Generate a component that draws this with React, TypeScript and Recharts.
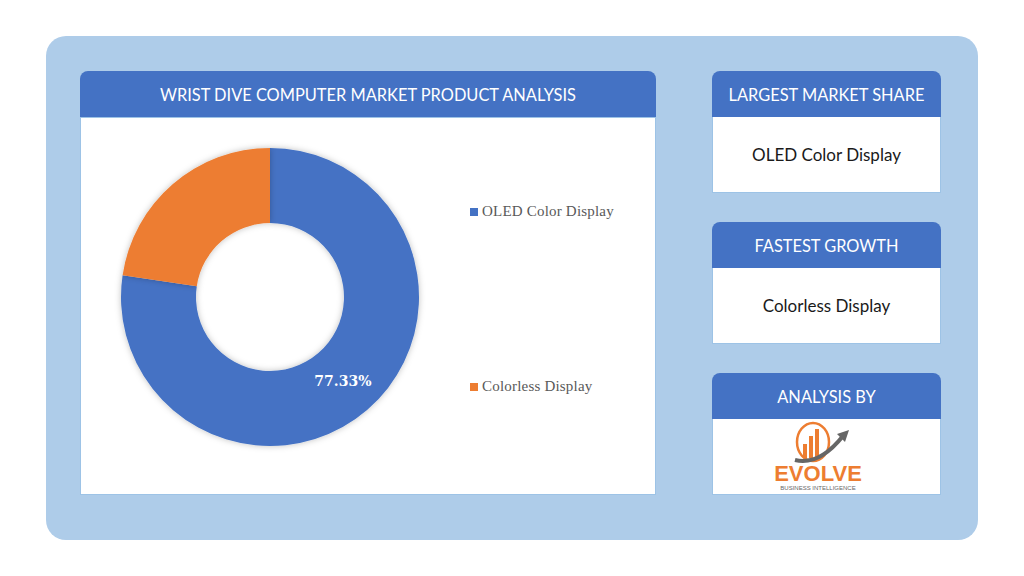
import { Pie, PieChart, Cell, Legend } from "recharts";

const segments = ["OLED Color Display", "Colorless Display"];
const shares = [77.33, 22.67];
const colors = ["#4472c4", "#ed7d31"];
const labelled = [true, false];

const cards = [
  { title: "LARGEST MARKET SHARE", body: "OLED Color Display" },
  { title: "FASTEST GROWTH", body: "Colorless Display" },
  { title: "ANALYSIS BY", body: "" }
];

const data = segments.map((name, i) => ({ name, value: shares[i] }));

const RADIAN = Math.PI / 180;

function SliceLabel(props: any) {
  const { cx, cy, midAngle, innerRadius, outerRadius, index, value } = props;
  if (!labelled[index]) return null;
  const r = (innerRadius + outerRadius) / 2;
  const x = cx + r * Math.cos(-midAngle * RADIAN);
  const y = cy + r * Math.sin(-midAngle * RADIAN);
  return (
    <text
      x={x}
      y={y}
      fill="#ffffff"
      textAnchor="middle"
      dominantBaseline="central"
      fontFamily="'DejaVu Serif', serif"
      fontWeight="bold"
      fontSize={14}
    >
      {value.toFixed(2)}%
    </text>
  );
}

function SideLegend() {
  const tops = [95, 270];
  return (
    <div>
      {data.map((d, i) => (
        <div
          key={d.name}
          style={{
            position: "absolute",
            left: 389,
            top: tops[i] - 10,
            display: "flex",
            alignItems: "center",
            fontFamily: "'Liberation Serif', serif",
            fontSize: 15,
            letterSpacing: 0.2,
            color: "#595959",
            whiteSpace: "nowrap"
          }}
        >
          <span style={{ width: 8, height: 8, background: colors[i], marginRight: 4, display: "inline-block" }} />
          {d.name}
        </div>
      ))}
    </div>
  );
}

function Logo() {
  return (
    <svg width={120} height={74} viewBox="0 0 120 74">
      <ellipse cx={46} cy={22} rx={16} ry={19} fill="none" stroke="#ed7d31" strokeWidth={2.5} />
      <rect x={36} y={24} width={4} height={14} fill="#ed7d31" />
      <rect x={42} y={16} width={4} height={22} fill="#ed7d31" />
      <rect x={48} y={9} width={4} height={29} fill="#ed7d31" />
      <path d="M28 40 Q52 46 76 16" stroke="#666" strokeWidth={4} fill="none" />
      <polygon points="82,10 70,14 78,22" fill="#666" />
      <text x={51} y={61} textAnchor="middle" fontFamily="'Liberation Sans', sans-serif" fontWeight="bold" fontSize={22} fill="#ed7d31">EVOLVE</text>
      <text x={51} y={70} textAnchor="middle" fontFamily="'Liberation Sans', sans-serif" fontSize={6} fill="#666">BUSINESS INTELLIGENCE</text>
    </svg>
  );
}

export default function App() {
  return (
    <div style={{ position: "absolute", left: 0, top: 0, width: 1024, height: 576, background: "#ffffff" }}>
      <div
        style={{
          position: "absolute",
          left: 46,
          top: 36,
          width: 932,
          height: 504,
          background: "#aecce9",
          borderRadius: 20
        }}
      />
      {/* main chart card */}
      <div
        style={{
          position: "absolute",
          left: 80,
          top: 71,
          width: 576,
          height: 46,
          background: "#4472c4",
          borderRadius: "8px 8px 0 0",
          color: "#ffffff",
          fontFamily: "Lato, sans-serif",
          fontSize: 16.4,
          display: "flex",
          alignItems: "center",
          justifyContent: "center"
        }}
      >
        WRIST DIVE COMPUTER MARKET PRODUCT ANALYSIS
      </div>
      <div
        style={{
          position: "absolute",
          left: 80,
          top: 117,
          width: 574,
          height: 376,
          background: "#ffffff",
          border: "1px solid #9dc3e6"
        }}
      >
        <PieChart width={574} height={376} margin={{ top: 0, right: 0, bottom: 0, left: 0 }}>
          <defs>
            <filter id="softShadow" x="-20%" y="-20%" width="140%" height="140%">
              <feDropShadow dx="0" dy="0" stdDeviation="3" floodColor="#000" floodOpacity="0.25" />
            </filter>
          </defs>
          <Pie
            data={data}
            dataKey="value"
            nameKey="name"
            cx={189}
            cy={179}
            innerRadius={74}
            outerRadius={149}
            startAngle={90}
            endAngle={-270}
            stroke="none"
            label={SliceLabel}
            labelLine={false}
            isAnimationActive={false}
            style={{ filter: "url(#softShadow)" }}
          >
            {data.map((d, i) => (
              <Cell key={d.name} fill={colors[i]} />
            ))}
          </Pie>
          <Legend content={<SideLegend />} wrapperStyle={{ position: "absolute", left: 0, top: 0, width: 574, height: 376 }} />
        </PieChart>
      </div>
      {/* side cards */}
      {cards.map((c, i) => {
        const top = 71 + i * 151;
        return (
          <div key={c.title}>
            <div
              style={{
                position: "absolute",
                left: 712,
                top,
                width: 229,
                height: 46,
                background: "#4472c4",
                borderRadius: "8px 8px 0 0",
                color: "#ffffff",
                fontFamily: "Lato, sans-serif",
                fontSize: 16.4,
                display: "flex",
                alignItems: "center",
                justifyContent: "center"
              }}
            >
              {c.title}
            </div>
            <div
              style={{
                position: "absolute",
                left: 712,
                top: top + 46,
                width: 227,
                height: 75,
                background: "#ffffff",
                border: "1px solid #9dc3e6",
                borderTop: "none",
                fontFamily: "Lato, sans-serif",
                fontSize: 17,
                color: "#1a1a1a",
                display: "flex",
                alignItems: "center",
                justifyContent: "center"
              }}
            >
              {c.body ? c.body : <Logo />}
            </div>
          </div>
        );
      })}
    </div>
  );
}
